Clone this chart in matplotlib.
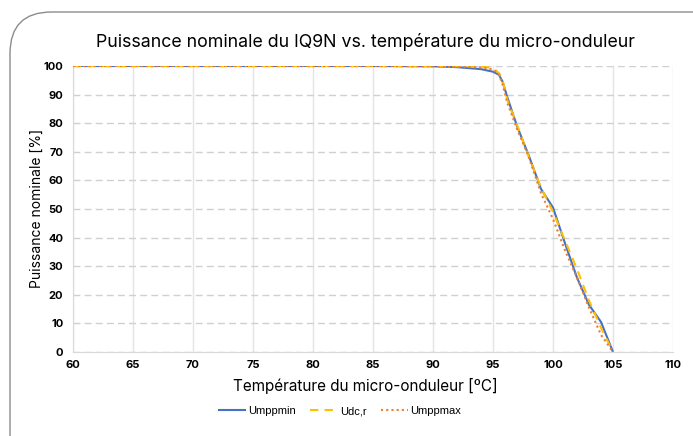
import matplotlib
matplotlib.use("Agg")
import matplotlib.pyplot as plt
from matplotlib.patches import FancyBboxPatch

temps = [60, 70, 80, 85, 90, 92, 94, 95, 95.5, 95.8, 96.2, 97, 98, 99, 100, 101, 102, 103, 104, 105]
umppmin = [100, 100, 100, 100, 99.9, 99.6, 98.9, 98.0, 96.9, 94.5, 89, 79, 68.5, 57, 50.5, 38, 26, 16.5, 10.5, 0]
udcr = [100, 100, 100, 100, 100, 99.9, 99.8, 99.3, 97.5, 95, 88, 79.5, 68, 57.5, 49, 39, 29, 18, 8.5, 0]
umppmax = [100, 100, 100, 100, 99.9, 99.7, 99.5, 98.8, 97, 93.5, 87, 78, 68, 55.5, 46.5, 35.5, 26, 15.5, 6, 0]

series_names = ["Umppmin", "Udc,r", "Umppmax"]
title = "Puissance nominale du IQ9N vs. température du micro-onduleur"
xlabel = "Température du micro-onduleur [⁰C]"
ylabel = "Puissance nominale [%]"
xticks = list(range(60, 111, 5))
yticks = list(range(0, 101, 10))

plt.rcParams['font.family'] = ['Inter', 'DejaVu Sans']

fig = plt.figure(figsize=(6.93, 4.36), dpi=100)
fig.patch.set_facecolor('white')

border = FancyBboxPatch((10/693, -0.2), 1.2, (436-12)/436 + 0.2,
                        boxstyle="round,pad=0,rounding_size=0.06",
                        transform=fig.transFigure, fill=False,
                        edgecolor='#8c8c8c', linewidth=1.0, mutation_aspect=693/436)
fig.patches.append(border)

ax = fig.add_axes([73/693, (436-352)/436, 600/693, 286/436])
ax.plot(temps, umppmin, color='#4472C4', lw=1.5, label=series_names[0], zorder=3)
ax.plot(temps, udcr, color='#FFC000', lw=1.5, ls=(0, (4, 3)), label=series_names[1], zorder=4)
ax.plot(temps, umppmax, color='#ED7D31', lw=1.5, ls=(0, (1, 1.5)), label=series_names[2], zorder=5)

ax.set_xlim(60, 110)
ax.set_ylim(0, 100)
ax.set_xticks(xticks)
ax.set_yticks(yticks)
ax.set_xticklabels([str(t) for t in xticks], fontsize=8, fontweight='bold')
ax.set_yticklabels([str(t) for t in yticks], fontsize=8, fontweight='bold')
ax.tick_params(length=0, pad=7)
ax.tick_params(axis='x', pad=6)
ax.xaxis.grid(True, color='#e4e4e4', lw=1, ls='-')
ax.yaxis.grid(True, color='#d0d0d0', lw=1, ls=(0, (5, 3)))
ax.set_axisbelow(True)
for s in ['top', 'right']:
    ax.spines[s].set_visible(False)
for s in ['left', 'bottom']:
    ax.spines[s].set_color('#d9d9d9')

fig.text(365/693, 1 - 386/436, xlabel, ha='center', va='center', fontsize=11)
fig.text(37/693, 1 - 208/436, ylabel, ha='center', va='center', fontsize=10, rotation=90)

fig.text(365/693, 1 - 42/436, title, ha='center', va='center', fontsize=12.8)

leg = fig.legend(loc='center', bbox_to_anchor=(340/693, 1 - 411/436), ncol=3, frameon=False,
                 prop={'family': 'Liberation Sans', 'size': 8}, handlelength=2.4,
                 columnspacing=1.3, handletextpad=0.25)

fig.savefig('out.png', dpi=100)
